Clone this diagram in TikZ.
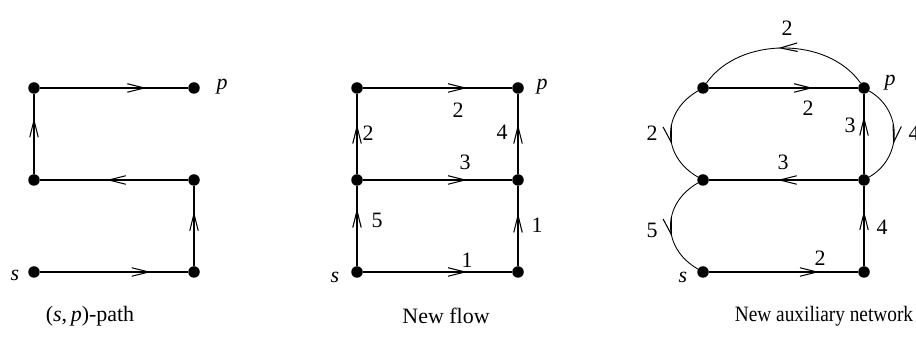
\documentclass[tikz,border=0pt]{standalone}
\usepackage{fontspec}
\setmainfont{Liberation Serif}
\usetikzlibrary{arrows.meta,decorations.markings}

\tikzset{
  dot/.style={circle,fill,inner sep=0pt,minimum size=0.23cm},
  flowline/.style={line width=0.8pt},
  curveline/.style={line width=0.5pt},
  midarr/.style={postaction={decorate},decoration={markings,
      mark=at position #1 with {\arrow{Straight Barb[length=3.4mm,width=1.7mm,line width=0.6pt]}}}},
  midarr/.default=0.7
}
\newcommand{\captext}[1]{\scalebox{0.88}[1]{#1}}

\begin{document}
\begin{tikzpicture}[x=0.02cm,y=0.02cm,every node/.style={font=\fontsize{12.5}{14}\selectfont}]
  \useasboundingbox (0,0) rectangle (916,344);
  % rows at 72, 164, 256 ; columns per panel
  % (s,p)-path
  \node[dot] (s1) at (34,72) {};
  \node[dot] (r1) at (194,72) {};
  \node[dot] (ml1) at (34,164) {};
  \node[dot] (mr1) at (194,164) {};
  \node[dot] (tl1) at (34,256) {};
  \node[dot] (p1) at (194,256) {};
  \draw[flowline,midarr=0.75] (s1) -- (r1);
  \draw[flowline,midarr=0.68] (r1) -- (mr1);
  \draw[flowline,midarr=0.55] (mr1) -- (ml1);
  \draw[flowline,midarr=0.7] (ml1) -- (tl1);
  \draw[flowline,midarr=0.72] (tl1) -- (p1);
  \node at (15,69) {\textit{s}};
  \node at (222,257) {\textit{p}};
  \node (cap1) at (90,28) {(\textit{s},\,\textit{p})-path};
  % new flow
  \node[dot] (s2) at (357,72) {};
  \node[dot] (r2) at (518,72) {};
  \node[dot] (ml2) at (357,164) {};
  \node[dot] (mr2) at (518,164) {};
  \node[dot] (tl2) at (357,256) {};
  \node[dot] (p2) at (518,256) {};
  \draw[flowline,midarr=0.7] (s2) -- (r2);
  \draw[flowline,midarr=0.72] (s2) -- (ml2);
  \draw[flowline,midarr=0.66] (r2) -- (mr2);
  \draw[flowline,midarr=0.7] (ml2) -- (mr2);
  \draw[flowline,midarr=0.62] (ml2) -- (tl2);
  \draw[flowline,midarr=0.62] (mr2) -- (p2);
  \draw[flowline,midarr=0.7] (tl2) -- (p2);
  \node at (467,84) {1};
  \node at (377,124) {5};
  \node at (537,119) {1};
  \node at (465,182) {3};
  \node at (368,211) {2};
  \node at (502,212) {4};
  \node at (458,234) {2};
  \node at (335,67) {\textit{s}};
  \node at (542,257) {\textit{p}};
  \node (cap2) at (446,28) {New flow};
  % new auxiliary network
  \node[dot] (s3) at (703,72) {};
  \node[dot] (r3) at (864,72) {};
  \node[dot] (ml3) at (703,164) {};
  \node[dot] (mr3) at (864,164) {};
  \node[dot] (tl3) at (703,256) {};
  \node[dot] (p3) at (864,256) {};
  \draw[flowline,midarr=0.74] (s3) -- (r3);
  \draw[flowline,midarr=0.69] (r3) -- (mr3);
  \draw[flowline,midarr=0.54] (mr3) -- (ml3);
  \draw[flowline,midarr=0.72] (mr3) -- (p3);
  \draw[flowline,midarr=0.7] (tl3) -- (p3);
  \draw[curveline,midarr=0.53] (p3) to[out=125,in=55,looseness=0.95] (tl3);
  \draw[curveline,midarr=0.6] (tl3) to[out=210,in=150,looseness=1.25] (ml3);
  \draw[curveline,midarr=0.6] (ml3) to[out=210,in=150,looseness=1.25] (s3);
  \draw[curveline,midarr=0.6] (p3) to[out=-30,in=30,looseness=1.15] (mr3);
  \node at (820,86) {2};
  \node at (652,114) {5};
  \node at (882,117) {4};
  \node at (783,182) {3};
  \node at (652,211) {2};
  \node at (850,219) {3};
  \node at (914,211) {4};
  \node at (808,236) {2};
  \node at (787,316) {2};
  \node at (683,67) {\textit{s}};
  \node at (890,261) {\textit{p}};
  \node (cap3) at (824,28) {\captext{New auxiliary network}};
\end{tikzpicture}
\end{document}
